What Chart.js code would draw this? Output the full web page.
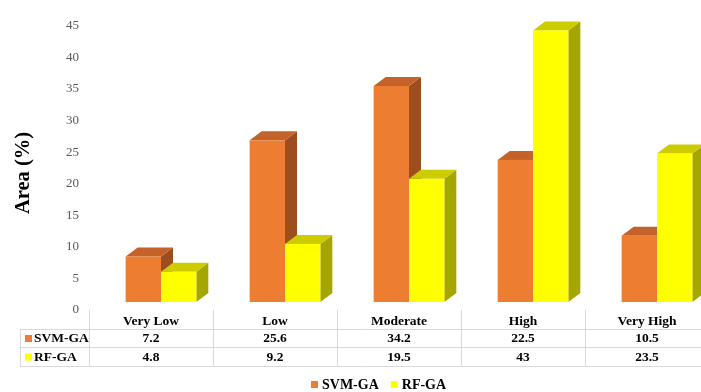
<!DOCTYPE html>
<html>
<head>
<meta charset="utf-8">
<script src="https://cdn.jsdelivr.net/npm/chart.js@4.4.1/dist/chart.umd.min.js"></script>
<style>
  html, body { margin: 0; padding: 0; background: #fff; overflow: hidden; width: 701px; height: 392px; }
  canvas { display: block; }
</style>
</head>
<body>
<canvas id="chart" width="712" height="392"></canvas>
<script>
// Susceptibility classes and the share of area (%) in each, per model
const categories = ['Very Low', 'Low', 'Moderate', 'High', 'Very High'];
const svmGA = [7.2, 25.6, 34.2, 22.5, 10.5];
const rfGA = [4.8, 9.2, 19.5, 43, 23.5];
const seriesNames = ['SVM-GA', 'RF-GA'];
const yMax = 45;
const yStep = 5;

const SERIF = "'Liberation Serif', 'Times New Roman', serif";

// Face colours for the extruded bars: front, top, right side
const faces = [
  { front: '#ED7D31', top: '#C4622B', side: '#9E4D1E' },
  { front: '#FFFF00', top: '#CCCC00', side: '#A6A600' }
];

// Oblique projection used for the bar depth
const depth = { dx: 12, dy: 9, shift: 10 };

function poly(ctx, pts, color) {
  ctx.beginPath();
  ctx.moveTo(pts[0][0], pts[0][1]);
  for (let i = 1; i < pts.length; i++) ctx.lineTo(pts[i][0], pts[i][1]);
  ctx.closePath();
  ctx.fillStyle = color;
  ctx.fill();
}

// Draws each bar as a box (front, top and side faces) from the bar element geometry
const bars3d = {
  id: 'bars3d',
  beforeDatasetsDraw(chart) {
    const ctx = chart.ctx;
    const metas = chart.data.datasets.map((d, i) => chart.getDatasetMeta(i));
    ctx.save();
    for (let j = 0; j < categories.length; j++) {
      metas.forEach((meta, i) => {
        const el = meta.data[j];
        const f = faces[i];
        const x0 = el.x - el.width / 2 + depth.shift;
        const x1 = el.x + el.width / 2 + depth.shift;
        const yt = el.y, yb = el.base;
        const { dx, dy } = depth;
        poly(ctx, [[x1, yb], [x1 + dx, yb - dy], [x1 + dx, yt - dy], [x1, yt]], f.side);
        poly(ctx, [[x0, yt], [x1, yt], [x1 + dx, yt - dy], [x0 + dx, yt - dy]], f.top);
        ctx.fillStyle = f.front;
        ctx.fillRect(x0, yt, x1 - x0, yb - yt);
      });
    }
    ctx.restore();
    return false;
  }
};

// Axis title, data table under the plot and the bottom legend
const decorations = {
  id: 'decorations',
  afterDraw(chart) {
    const ctx = chart.ctx;
    const xs = chart.scales.x;
    const area = chart.chartArea;
    const colW = (area.right - area.left) / categories.length;
    const rows = [svmGA, rfGA];

    ctx.save();

    // y-axis title
    ctx.translate(24, 173);
    ctx.rotate(-Math.PI / 2);
    ctx.font = 'bold 20.5px ' + SERIF;
    ctx.fillStyle = '#000';
    ctx.textAlign = 'center';
    ctx.textBaseline = 'middle';
    ctx.fillText('Area (%)', 0, 0);
    ctx.setTransform(1, 0, 0, 1, 0, 0);

    // table grid
    const tTop = 310, hLine = 329, rLine = 347, tBottom = 366, tLeft = 20;
    ctx.strokeStyle = '#D9D9D9';
    ctx.lineWidth = 1;
    ctx.beginPath();
    for (let i = 0; i <= categories.length; i++) {
      const x = Math.round(area.left + i * colW) + 0.5;
      ctx.moveTo(x, tTop);
      ctx.lineTo(x, tBottom);
    }
    ctx.moveTo(tLeft + 0.5, hLine);
    ctx.lineTo(tLeft + 0.5, tBottom);
    [hLine, rLine, tBottom].forEach(y => {
      ctx.moveTo(tLeft, y + 0.5);
      ctx.lineTo(area.right + 10, y + 0.5);
    });
    ctx.stroke();

    // header row and values
    ctx.fillStyle = '#000';
    ctx.textAlign = 'center';
    ctx.textBaseline = 'middle';
    ctx.font = 'bold 13.5px ' + SERIF;
    const rowY = [339, 357.5];
    categories.forEach((c, j) => {
      const cx = xs.getPixelForValue(j);
      ctx.fillText(c, cx, 322);
      rows.forEach((r, i) => ctx.fillText(String(r[j]), cx, rowY[i]));
    });

    // row keys
    ctx.textAlign = 'left';
    seriesNames.forEach((n, i) => {
      ctx.fillStyle = faces[i].front;
      ctx.fillRect(25, rowY[i] - 4, 7, 7);
      ctx.fillStyle = '#000';
      ctx.fillText(n, 34, rowY[i]);
    });

    // bottom legend
    ctx.font = 'bold 14px ' + SERIF;
    let lx = 311;
    seriesNames.forEach((n, i) => {
      ctx.fillStyle = faces[i].front;
      ctx.fillRect(lx, 381, 7, 7);
      ctx.fillStyle = '#000';
      ctx.fillText(n, lx + 11, 385);
      lx += 11 + ctx.measureText(n).width + 12;
    });

    ctx.restore();
  }
};

new Chart(document.getElementById('chart'), {
  type: 'bar',
  data: {
    labels: categories,
    datasets: [
      { label: seriesNames[0], data: svmGA, backgroundColor: faces[0].front },
      { label: seriesNames[1], data: rfGA, backgroundColor: faces[1].front }
    ]
  },
  options: {
    responsive: false,
    animation: false,
    devicePixelRatio: 1,
    layout: { padding: { left: 0, top: 14, right: 3, bottom: 90 } },
    datasets: { bar: { barPercentage: 1, categoryPercentage: 0.57 } },
    plugins: { legend: { display: false }, tooltip: { enabled: false } },
    scales: {
      x: { display: false },
      y: {
        min: 0,
        max: yMax,
        afterFit(scale) { scale.width = 89; },
        grid: { display: false, drawTicks: false },
        border: { display: false },
        ticks: {
          stepSize: yStep,
          padding: 10,
          labelOffset: 8,
          color: '#595959',
          font: { family: SERIF, size: 13 }
        }
      }
    }
  },
  plugins: [bars3d, decorations]
});
</script>
</body>
</html>
